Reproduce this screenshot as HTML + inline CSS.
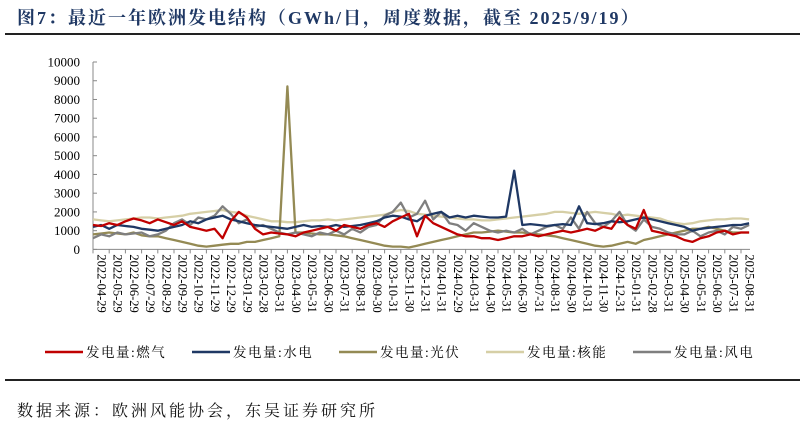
<!DOCTYPE html>
<html><head><meta charset="utf-8">
<style>
body{margin:0;background:#fff;width:805px;height:427px;overflow:hidden;position:relative;font-family:"Liberation Serif","Noto Serif CJK SC",serif;}
#title{position:absolute;left:17px;top:4px;font-size:18px;letter-spacing:2px;font-weight:bold;color:#1f3864;white-space:nowrap;font-family:"Liberation Serif","Noto Serif CJK SC",serif;}
.rule{position:absolute;left:5px;width:795px;height:2px;background:#222;}
#source{position:absolute;left:17px;top:398px;font-size:16px;letter-spacing:3px;color:#111;white-space:nowrap;font-family:"Liberation Serif","Noto Serif CJK SC",serif;}
svg{position:absolute;left:0;top:0;}
</style></head><body>
<div id="title">图7：最近一年欧洲发电结构（GWh/日，周度数据，截至 2025/9/19）</div>
<div class="rule" style="top:33px"></div>
<div class="rule" style="top:379px"></div>
<div id="source">数据来源：欧洲风能协会，东吴证券研究所</div>
<svg id="chart" width="805" height="427"></svg>
<script>
const tickLabels=['2022-04-29','2022-05-29','2022-06-29','2022-07-29','2022-08-29','2022-09-29','2022-10-29','2022-11-29','2022-12-29','2023-01-29','2023-02-28','2023-03-31','2023-04-30','2023-05-31','2023-06-30','2023-07-31','2023-08-31','2023-09-30','2023-10-31','2023-11-30','2023-12-31','2024-01-31','2024-02-29','2024-03-31','2024-04-30','2024-05-31','2024-06-30','2024-07-31','2024-08-31','2024-09-30','2024-10-31','2024-11-30','2024-12-31','2025-01-31','2025-02-28','2025-03-31','2025-04-30','2025-05-31','2025-06-30','2025-07-31','2025-08-31'];
const yTicks=[0,1000,2000,3000,4000,5000,6000,7000,8000,9000,10000];
const gas=[1300,1250,1400,1300,1500,1650,1550,1400,1600,1450,1300,1500,1200,1100,1000,1100,600,1500,2000,1700,1100,800,900,850,800,700,900,1000,1100,1200,1000,1300,1200,1100,1300,1400,1200,1500,1700,1900,700,1800,1400,1200,1000,800,700,700,600,600,500,600,700,700,800,700,800,900,1000,900,1000,1100,1000,1200,1100,1700,1300,1100,2100,1000,900,800,700,500,400,600,700,900,1000,800,900,900];
const hydro=[1200,1300,1100,1300,1250,1200,1100,1050,1000,1100,1200,1300,1500,1400,1600,1700,1800,1600,1500,1400,1300,1250,1200,1150,1100,1200,1300,1200,1250,1200,1300,1200,1250,1300,1400,1500,1700,1800,1750,1600,1500,1800,1900,2000,1700,1800,1700,1800,1750,1700,1700,1750,4200,1300,1350,1300,1250,1300,1350,1300,2300,1400,1350,1400,1500,1450,1500,1600,1700,1600,1500,1400,1300,1200,1000,1100,1150,1200,1250,1300,1300,1400];
const solar=[800,850,900,850,800,900,750,700,700,600,500,400,300,200,150,200,250,300,300,400,400,500,600,700,8700,900,900,850,800,800,750,700,600,500,400,300,200,150,150,100,200,300,400,500,600,700,800,900,900,950,1000,950,900,900,850,800,750,700,600,500,400,300,200,150,200,300,400,300,500,600,700,800,900,1000,1100,1100,1200,1100,1000,900,900,900];
const nuclear=[1600,1550,1500,1550,1600,1650,1700,1700,1650,1700,1750,1800,1900,1950,2000,2050,2100,2000,1950,1800,1700,1600,1500,1500,1450,1450,1500,1550,1550,1600,1550,1600,1650,1700,1750,1800,1850,2000,2100,2050,1900,1850,1800,1750,1700,1650,1600,1600,1550,1550,1600,1650,1700,1750,1800,1850,1900,2000,2000,1950,1900,1950,2000,1950,1900,1800,1850,1800,1750,1700,1650,1500,1400,1350,1400,1500,1550,1600,1600,1650,1650,1600];
const wind=[600,800,700,900,800,850,900,700,800,1000,1400,1600,1300,1700,1600,1800,2300,1900,1400,1600,1200,1300,1100,900,800,900,800,700,900,800,1000,800,1100,900,1200,1300,1800,2000,2500,1700,1900,2600,1600,2000,1400,1300,1000,1400,1200,1000,900,1000,900,1100,800,1000,1200,1300,1100,1700,1100,2000,1400,1200,1500,2000,1300,1000,1600,1200,1100,900,800,800,1000,700,900,1000,800,1200,1100,1300];
const seriesNames=['发电量:燃气','发电量:水电','发电量:光伏','发电量:核能','发电量:风电'];
const seriesColors=['#c00000','#1f3864','#948a54','#d6cfa6','#7f7f7f'];
const seriesData=[gas,hydro,solar,nuclear,wind];

const svg=document.getElementById('chart');const NS='http://www.w3.org/2000/svg';
const X0=93,TICKSTEP=16.2,Y0=249.4,YPX=18.74/1000;
function xIdx(i){return X0+i*TICKSTEP/2;}
function yVal(v){return Y0-v*YPX;}
function mk(t,a){const e=document.createElementNS(NS,t);for(const k in a)e.setAttribute(k,a[k]);svg.appendChild(e);return e;}
const ax=mk('line',{x1:X0,y1:yVal(10000),x2:X0,y2:Y0,stroke:'#888','stroke-width':1});


yTicks.forEach(v=>{const t=mk('line',{x1:X0,y1:yVal(v),x2:X0+4,y2:yVal(v),stroke:'#888'});


const l=mk('text',{x:80,y:yVal(v)+4.5,'text-anchor':'end','font-size':13,fill:'#000','font-family':'Liberation Serif,serif'});l.textContent=v;

});
const xa=mk('line',{x1:X0,y1:Y0,x2:750,y2:Y0,stroke:'#888'});


tickLabels.forEach((s,i)=>{const x=xIdx(i*2);const t=mk('line',{x1:x,y1:Y0,x2:x,y2:Y0+4,stroke:'#888'});


const l=mk('text',{x:0,y:0,transform:`translate(${x+4.5},${Y0+5}) rotate(90)`,'font-size':12.5,fill:'#000','font-family':'Liberation Serif,serif'});l.textContent=s;

});
[3,2,4,1,0].forEach(k=>{const d=seriesData[k].map((v,i)=>(i?'L':'M')+xIdx(i).toFixed(1)+','+yVal(v).toFixed(1)).join('');
const p=mk('path',{d:d,fill:'none',stroke:seriesColors[k],'stroke-width':2.3,'stroke-linejoin':'round'});

});
const lx=[45,192,339,486,633];
seriesNames.forEach((n,k)=>{const l=mk('line',{x1:lx[k],y1:352,x2:lx[k]+38,y2:352,stroke:seriesColors[k],'stroke-width':2.5});


const t=mk('text',{x:lx[k]+41,y:357,'font-size':13.5,'letter-spacing':1.5,fill:'#000','font-family':'Liberation Serif,Noto Serif CJK SC,serif'});t.textContent=n;

});
</script>
</body></html>
